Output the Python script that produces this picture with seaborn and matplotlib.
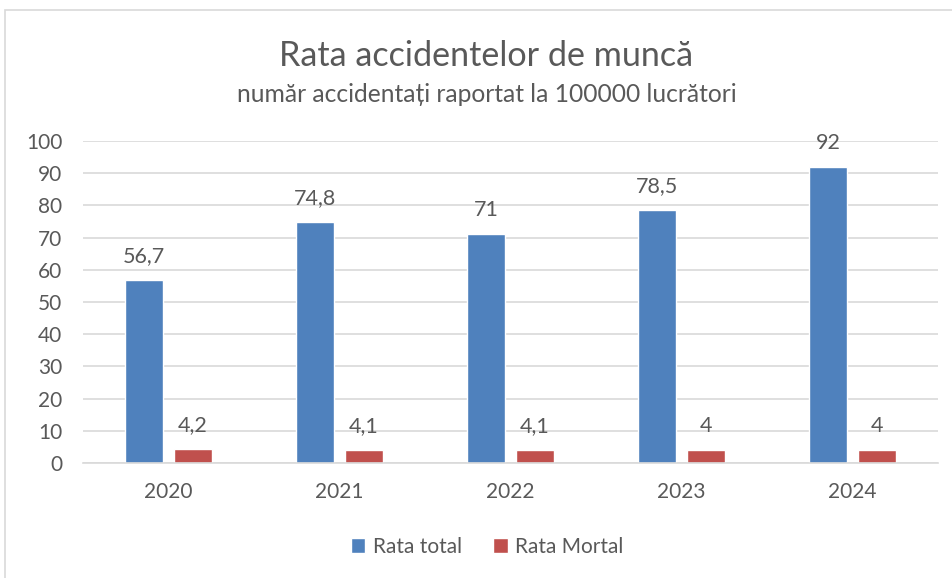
import matplotlib
matplotlib.use("Agg")
import matplotlib.pyplot as plt
import seaborn as sns
import pandas as pd
from matplotlib.patches import Rectangle

years = ["2020", "2021", "2022", "2023", "2024"]
rata_total = [56.7, 74.8, 71, 78.5, 92]
rata_mortal = [4.2, 4.1, 4.1, 4, 4]
series_names = ["Rata total", "Rata Mortal"]
title = "Rata accidentelor de muncă"
subtitle = "număr accidentați raportat la 100000 lucrători"

df = pd.DataFrame({
    "year": years * 2,
    "value": rata_total + rata_mortal,
    "series": [series_names[0]] * len(years) + [series_names[1]] * len(years),
})

sns.set_theme(style="white")
plt.rcParams["font.family"] = ["Lato", "DejaVu Sans"]
txt = "#595959"

fig = plt.figure(figsize=(9.52, 5.78), dpi=100)
ax = fig.add_axes([83/952, 1-463/578, (938-83)/952, (463-141)/578])

sns.barplot(data=df, x="year", y="value", hue="series", ax=ax,
            palette=["#4F81BD", "#C0504D"], width=0.567, gap=0.21,
            saturation=1, legend=True)

ax.set_ylim(0, 100)
ax.set_xlim(-0.5, 4.5)
ax.set_yticks(range(0, 101, 10))
ax.yaxis.grid(True, color="#D9D9D9", linewidth=1.2)
ax.set_axisbelow(True)
for s in ["top", "right", "left"]:
    ax.spines[s].set_visible(False)
ax.spines["bottom"].set_color("#D9D9D9")
ax.spines["bottom"].set_linewidth(1.2)
ax.set_xlabel("")
ax.set_ylabel("")
ax.tick_params(axis="y", length=0, pad=15, labelsize=15, labelcolor=txt)
ax.tick_params(axis="x", length=0, pad=14, labelsize=15, labelcolor=txt)

for cont in ax.containers:
    labels = [("%g" % v).replace(".", ",") for v in cont.datavalues]
    ax.bar_label(cont, labels=labels, padding=10, fontsize=15.5, color=txt)

handles, labs = ax.get_legend_handles_labels()
ax.legend(handles, labs, loc="center",
          bbox_to_anchor=((487-83)/855, (1-547/578 - (1-463/578)) / ((463-141)/578)),
          bbox_transform=ax.transAxes, ncol=2, frameon=False, fontsize=15,
          labelcolor=txt, handlelength=0.7, handleheight=0.7, columnspacing=1.5,
          handletextpad=0.35)

fig.text(486/952, 1-56/578, title, ha="center", va="center", fontsize=24.6, color=txt)
fig.text(487/952, 1-95/578, subtitle, ha="center", va="center", fontsize=17.7, color=txt)

fig.patches.append(Rectangle((4.5/952, -0.1), 2.0, 1-10/578 + 0.1, transform=fig.transFigure,
                             fill=False, edgecolor="#D9D9D9", linewidth=1.2))

fig.savefig("out.png", dpi=100)
